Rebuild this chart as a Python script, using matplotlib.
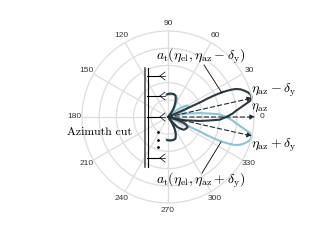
import matplotlib
matplotlib.use('Agg')
import matplotlib.pyplot as plt
import numpy as np

plt.rcParams['mathtext.fontset'] = 'cm'
plt.rcParams['font.family'] = ['Liberation Sans', 'DejaVu Sans']

W, H = 325, 243
cx, cy, R = 168, 117, 86

angle_ticks = [0, 30, 60, 90, 120, 150, 180, 210, 240, 270, 300, 330]
radius_ticks = [0.2, 0.4, 0.6, 0.8]

# upper beam pattern (degrees, normalised radius)
dark_theta = [-92, -84, -76, -71, -68, -65, -61, -57, -53, -50, -49, -47, -43, -39, -33, -27, -23, -20, -18, -16, -14, -11, -7, -5, -3, -1, 1, 3, 5, 7, 9, 11, 12.5, 13.5, 15, 17, 19, 21, 22.5, 23.5, 24.5, 25, 25, 24.5, 24, 26, 40, 50, 53, 56, 60, 64, 68, 71, 76, 84, 92]
dark_r = [0.27, 0.275, 0.275, 0.265, 0.24, 0.21, 0.16, 0.10, 0.05, 0.02, 0.08, 0.16, 0.20, 0.235, 0.25, 0.257, 0.23, 0.194, 0.14, 0.08, 0.05, 0.20, 0.375, 0.47, 0.60, 0.65, 0.70, 0.75, 0.79, 0.84, 0.90, 0.97, 0.99, 1.0, 0.995, 0.975, 0.94, 0.90, 0.85, 0.79, 0.70, 0.60, 0.50, 0.41, 0.21, 0.03, 0.0, 0.02, 0.06, 0.11, 0.15, 0.20, 0.24, 0.265, 0.275, 0.275, 0.265]
# lower beam pattern, the same lobes on the other side
blue_theta = [95, 84, 76, 71, 66, 63, 60, 56, 52, 47, 42, 37, 34, 31, 27, 24, 20, 17, 14, 11, 7, 5, 3, 1, -1, -3, -5, -7, -9, -11, -12.5, -13.5, -15, -17, -19, -21, -22.5, -23.5, -24.5, -25, -25, -24.5, -24, -26, -40, -50, -56, -60, -64, -68, -72, -78, -86, -94]
blue_r = [0.255, 0.265, 0.27, 0.266, 0.25, 0.235, 0.20, 0.14, 0.06, 0.02, 0.08, 0.17, 0.22, 0.26, 0.27, 0.24, 0.17, 0.10, 0.05, 0.20, 0.375, 0.47, 0.60, 0.65, 0.70, 0.75, 0.79, 0.84, 0.90, 0.97, 0.99, 1.0, 0.995, 0.975, 0.94, 0.90, 0.85, 0.79, 0.70, 0.60, 0.50, 0.41, 0.21, 0.03, 0.0, 0.02, 0.10, 0.16, 0.21, 0.245, 0.265, 0.275, 0.27, 0.26]

fork_y = [76, 96, 117, 158]
dot_y = [132, 140, 147]

fig = plt.figure(figsize=(W / 100, H / 100), dpi=100)
ax = fig.add_axes([(cx - R) / W, 1 - (cy + R) / H, 2 * R / W, 2 * R / H], projection='polar')
ax.set_ylim(0, 1)
ax.set_thetagrids(angle_ticks, [str(a) for a in angle_ticks], fontsize=6, color='#333333')
ax.set_rticks(radius_ticks)
ax.set_yticklabels([])
ax.tick_params(axis='x', pad=-1.5, length=0)
ax.grid(True, color='#dddddd', lw=0.9)
ax.spines['polar'].set_color('#dddddd')
ax.spines['polar'].set_linewidth(0.9)

ax.plot(np.radians(blue_theta), blue_r, color='#8cc3d6', lw=1.5, clip_on=False)
ax.plot(np.radians(dark_theta), dark_r, color='#2b3a42', lw=1.5, clip_on=False)

# overlay in pixel coordinates for the annotations
ov = fig.add_axes([0, 0, 1, 1])
ov.set_xlim(0, W)
ov.set_ylim(H, 0)
ov.axis('off')
ov.patch.set_alpha(0)

ov.plot([145, 145], [68, 167], color='#444444', lw=1.1)
ov.plot([147.5, 147.5], [68, 167], color='black', lw=0.8)
for y in fork_y:
    ov.plot([147, 160], [y, y], color='black', lw=0.8)
    for d in [-4, 0, 4]:
        ov.plot([160, 165], [y, y + d], color='black', lw=0.5)
ov.plot([158] * 3, dot_y, 'k.', ms=2)

arrow = dict(arrowstyle='-|>', ls=(0, (4, 2.5)), lw=0.8, color='#1f2a30', mutation_scale=7, shrinkA=0, shrinkB=0)
for end in [(252, 98), (255, 117), (252, 136)]:
    ov.annotate('', xy=end, xytext=(cx, cy), arrowprops=arrow)

ov.plot([204, 222], [65, 93], color='black', lw=0.6)
ov.plot([202, 221], [173, 142], color='black', lw=0.6)

ov.text(156, 56, r'$a_{\rm t}(\eta_{\rm el},\eta_{\rm az}-\delta_{\rm y})$', fontsize=10, va='center')
ov.text(156, 180, r'$a_{\rm t}(\eta_{\rm el},\eta_{\rm az}+\delta_{\rm y})$', fontsize=10, va='center')
ov.text(251, 90, r'$\eta_{\rm az}-\delta_{\rm y}$', fontsize=10, va='center')
ov.text(251, 108, r'$\eta_{\rm az}$', fontsize=9.5, va='center')
ov.text(251, 145, r'$\eta_{\rm az}+\delta_{\rm y}$', fontsize=10, va='center')
ov.text(67, 132, 'Azimuth cut', fontsize=8.5, family='cmr10', va='center')

fig.savefig('out.png', dpi=100)
